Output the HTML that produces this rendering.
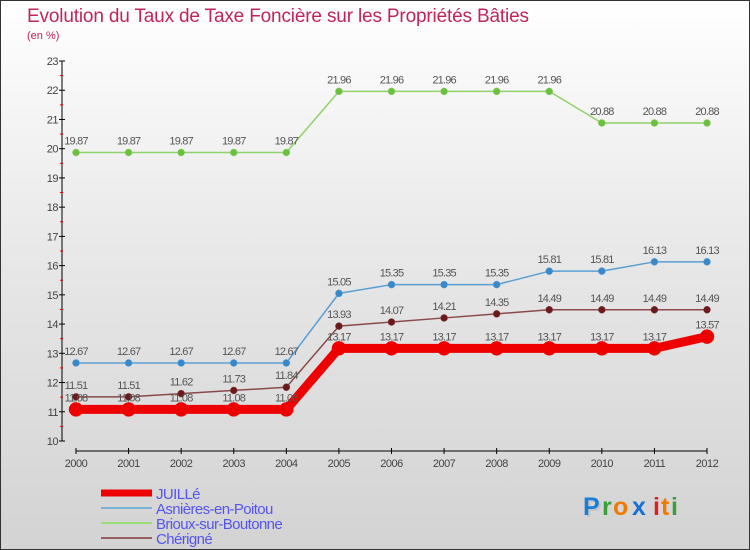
<!DOCTYPE html>
<html><head><meta charset="utf-8"><style>
body{margin:0;}
#wrap{width:750px;height:550px;position:relative;box-sizing:border-box;border:1px solid #333;background:linear-gradient(#fff 0%,#e6e6e6 50%,#d3d3d3 100%);font-family:"Liberation Sans",sans-serif;overflow:hidden;}
svg text{font-family:"Liberation Sans",sans-serif;}
</style></head><body>
<div id="wrap">
<svg id="svg" width="750" height="550">
<text x="26" y="21" font-size="19" fill="#c0245c" textLength="502">Evolution du Taux de Taxe Foncière sur les Propriétés Bâties</text>
<text x="26" y="38" font-size="11" fill="#c0245c">(en %)</text>
<g id="axes"></g><g id="series"></g><g id="legend"></g>
<g font-size="25" font-weight="bold">
<text x="584" y="516" fill="#bbb" opacity="0.6">P</text>
<text x="582" y="514" fill="#1a7fd4">P</text><text x="601" y="514" fill="#3aa03a">r</text><text x="612" y="514" fill="#f07a00">o</text><text x="631" y="514" fill="#1a6fd4">x</text><text x="652" y="514" fill="#e02020">i</text><text x="660" y="514" fill="#f07a00">t</text><text x="670" y="514" fill="#3aa03a">i</text>
</g>
</svg></div>
<script>
const years=[2000,2001,2002,2003,2004,2005,2006,2007,2008,2009,2010,2011,2012];
const yTicks=[10,11,12,13,14,15,16,17,18,19,20,21,22,23];
const juille=[11.08,11.08,11.08,11.08,11.08,13.17,13.17,13.17,13.17,13.17,13.17,13.17,13.57];
const asnieres=[12.67,12.67,12.67,12.67,12.67,15.05,15.35,15.35,15.35,15.81,15.81,16.13,16.13];
const brioux=[19.87,19.87,19.87,19.87,19.87,21.96,21.96,21.96,21.96,21.96,20.88,20.88,20.88];
const cherigne=[11.51,11.51,11.62,11.73,11.84,13.93,14.07,14.21,14.35,14.49,14.49,14.49,14.49];
const NS="http://www.w3.org/2000/svg";
const X=i=>75+i*(706-75)/12;
const Y=v=>440-(v-10)*(380/13);
function mk(tag,attrs,parent,txt){const e=document.createElementNS(NS,tag);for(const k in attrs)e.setAttribute(k,attrs[k]);if(txt!==undefined)e.textContent=txt;parent.appendChild(e);return e;}
const axes=document.getElementById('axes');
let yl=mk('line',{x1:61,y1:Y(23),x2:61,y2:Y(10),stroke:'#000','stroke-width':1},axes);


yTicks.forEach(t=>{mk('line',{x1:58,x2:64,y1:Y(t),y2:Y(t),stroke:'#000'},axes);
 if(t<23)mk('line',{x1:59,x2:62,y1:Y(t+0.5),y2:Y(t+0.5),stroke:'#e00'},axes);
 const tx=mk('text',{x:57,y:Y(t)+4,'font-size':11,'text-anchor':'end',fill:'#444','letter-spacing':'-0.5'},axes,t);
 
 });
let xl=mk('line',{x1:75,y1:450,x2:706,y2:450,stroke:'#000'},axes);


years.forEach((y,i)=>{mk('line',{x1:X(i),x2:X(i),y1:447,y2:453,stroke:'#000'},axes);
 const tx=mk('text',{x:X(i),y:466,'font-size':11,'text-anchor':'middle',fill:'#444','letter-spacing':'-0.5'},axes,y);
 
 });
const sg=document.getElementById('series');
function series(data,name,color,w,r,dot){
 const g=mk('g',{},sg);
 
 
 mk('polyline',{points:data.map((v,i)=>X(i)+','+Y(v)).join(' '),fill:'none',stroke:color,'stroke-width':w,'stroke-linejoin':'round'},g);
 data.forEach((v,i)=>{const c=mk('circle',{cx:X(i),cy:Y(v),r:r,fill:dot,stroke:color,'stroke-width':0.5},g);
  
  
  const t=mk('text',{x:X(i),y:Y(v)-8,'font-size':11,'text-anchor':'middle',fill:'#555','letter-spacing':'-0.8'},g,v.toFixed(2).replace(/0$/,'').replace(/\.$/,''));
  
  });
}
series(brioux,'brioux-series','#8fd16a',1.5,3.5,'#6cc040');
series(asnieres,'asnieres-series','#5a9fd4',1.5,3.5,'#3a88c8');
series(cherigne,'cherigne-series','#8a4a4a',1.5,3.5,'#6a1a1a');
series(juille,'juille-series','#ee0000',9,7,'#ee0000');
const lg=document.getElementById('legend');
const items=[['JUILLé','#ee0000',7],['Asnières-en-Poitou','#7ab0d4',2],['Brioux-sur-Boutonne','#99dd77',2],['Chérigné','#9a6060',2]];
items.forEach((it,k)=>{const y=492+k*15;const g=mk('g',{},lg);
 
 
 mk('line',{x1:100,x2:151,y1:y,y2:y,stroke:it[1],'stroke-width':it[2]},g);
 mk('text',{x:155,y:y+6,'font-size':15,fill:'#5555ee','letter-spacing':'-0.6'},g,it[0]);});
</script>
</body></html>
